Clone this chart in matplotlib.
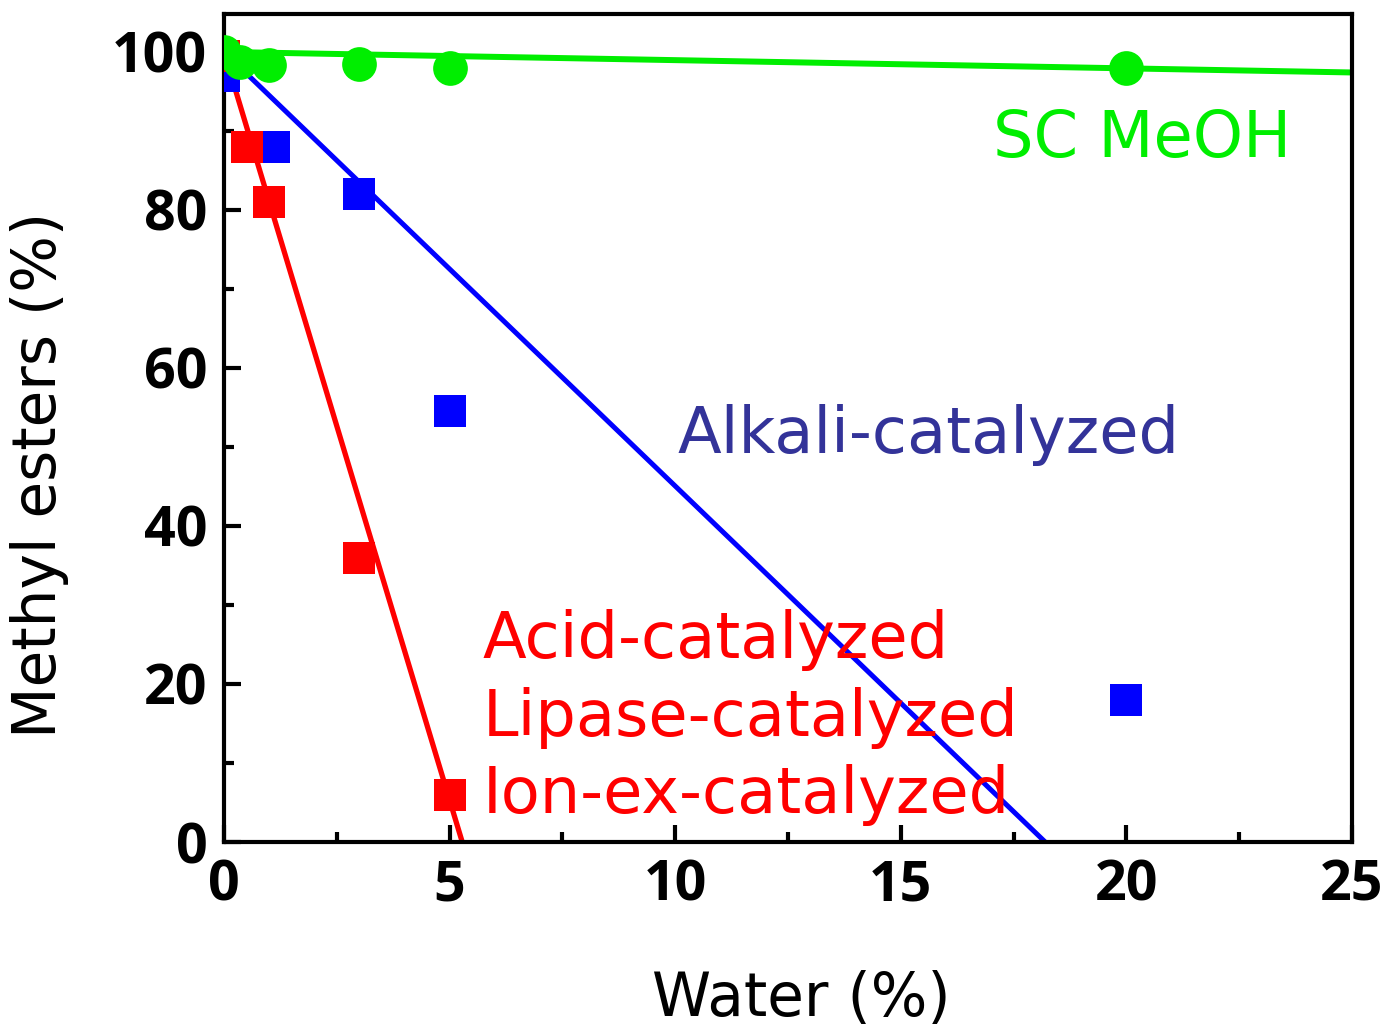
import matplotlib
matplotlib.use("Agg")
import matplotlib.pyplot as plt
from matplotlib.ticker import MultipleLocator

# data
sc_x = [0, 0.35, 1, 3, 5, 20]
sc_y = [100, 98.7, 98.4, 98.5, 98.0, 98.0]
alk_x = [0, 1.1, 3, 5, 20]
alk_y = [97.0, 88.0, 82.0, 54.5, 18.0]
acid_x = [0, 0.5, 1, 3, 5]
acid_y = [99.5, 88.0, 81.0, 36.0, 6.0]
sc_fit_x = [0, 25]
sc_fit_y = [100, 97.4]
alk_fit_x = [0, 18.2]
alk_fit_y = [100, 0]
acid_fit_x = [0, 5.28]
acid_fit_y = [100, 0]

GREEN = "#00ee00"
BLUE = "#0000ff"
RED = "#ff0000"
NAVY = "#333399"

plt.rcParams['font.family'] = ['DejaVu Sans']

fig = plt.figure(figsize=(13.88, 10.28), dpi=100)
ax = fig.add_axes([224/1388, 186/1028, (1352-224)/1388, (842-14)/1028])

ax.plot(acid_fit_x, acid_fit_y, color=RED, lw=3.8, zorder=2)
ax.plot(alk_fit_x, alk_fit_y, color=BLUE, lw=3.6, zorder=2)
ax.plot(sc_fit_x, sc_fit_y, color=GREEN, lw=4.3, zorder=2)

ax.plot(alk_x, alk_y, 's', color=BLUE, ms=23, mew=0, zorder=3)
ax.plot(acid_x, acid_y, 's', color=RED, ms=23, mew=0, zorder=3)
ax.plot(sc_x, sc_y, 'o', color=GREEN, ms=25, mew=0, zorder=4)

ax.set_xlim(0, 25)
ax.set_ylim(0, 104.8)
ax.xaxis.set_major_locator(MultipleLocator(5))
ax.xaxis.set_minor_locator(MultipleLocator(2.5))
ax.yaxis.set_major_locator(MultipleLocator(20))
ax.yaxis.set_minor_locator(MultipleLocator(10))
ax.tick_params(which='major', direction='in', length=12, width=3, labelsize=40, pad=12)
ax.tick_params(which='minor', direction='in', length=7, width=3)
ax.tick_params(top=False, right=False)
for lab in ax.get_xticklabels() + ax.get_yticklabels():
    lab.set_fontfamily(['Open Sans', 'DejaVu Sans'])
    lab.set_fontweight('bold')
for s in ax.spines.values():
    s.set_linewidth(3)

ax.set_xlabel('Water (%)', fontsize=43, labelpad=40)
ax.set_ylabel('Methyl esters (%)', fontsize=43)
ax.xaxis.set_label_coords(0.512, -0.155)
ax.yaxis.set_label_coords(-0.137, 0.443)

ax.text(17.05, 89, 'SC MeOH', color=GREEN, fontsize=46, va='center', ha='left')
ax.text(10.05, 51.5, 'Alkali-catalyzed', color=NAVY, fontsize=46, va='center', ha='left')
ax.text(5.74, 25.6, 'Acid-catalyzed', color=RED, fontsize=46, va='center', ha='left')
ax.text(5.74, 15.7, 'Lipase-catalyzed', color=RED, fontsize=46, va='center', ha='left')
ax.text(5.74, 5.9, 'Ion-ex-catalyzed', color=RED, fontsize=46, va='center', ha='left')

fig.savefig('out.png', dpi=100)
